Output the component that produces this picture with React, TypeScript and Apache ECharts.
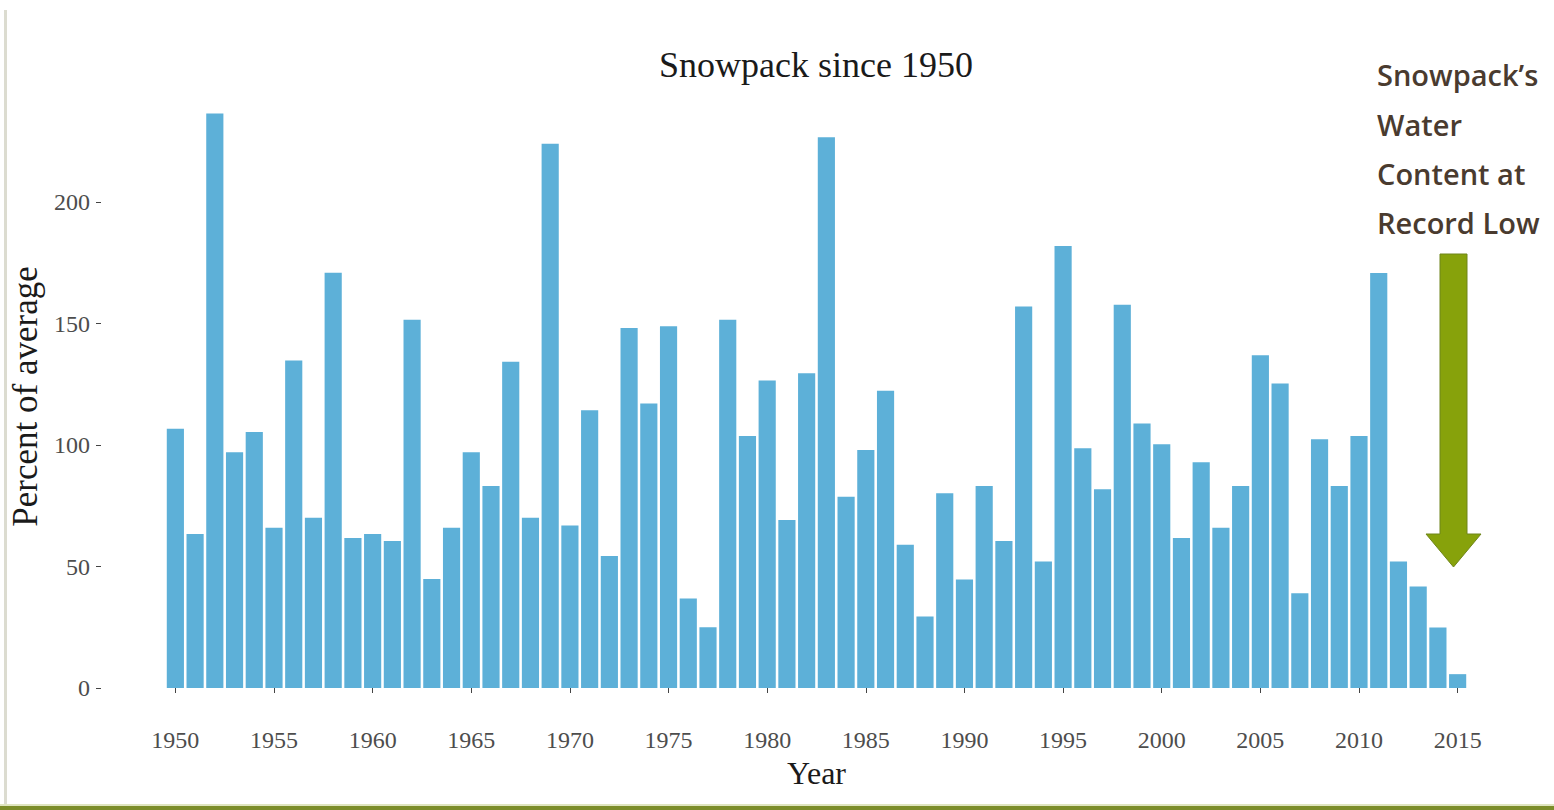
import React, { useEffect, useRef } from "react";
import * as echarts from "echarts";

const years: string[] = [];
for (let y = 1950; y <= 2015; y++) years.push(String(y));

const percentOfAverage: number[] = [
  106.7, 63.4, 236.5, 97.1, 105.4, 66, 134.8, 70.1, 170.9, 61.7,
  63.4, 60.5, 151.6, 44.9, 66, 97.1, 83.2, 134.3, 70.1, 224,
  66.9, 114.3, 54.3, 148.2, 117.1, 148.9, 36.8, 25, 151.6, 103.7,
  126.6, 69.2, 129.6, 226.7, 78.7, 98, 122.4, 59, 29.4, 80.2,
  44.7, 83.2, 60.5, 157, 52.1, 182, 98.7, 81.8, 157.8, 108.9,
  100.3, 61.7, 92.9, 66, 83.2, 137, 125.4, 39, 102.4, 83.2,
  103.7, 170.8, 52.1, 41.8, 24.9, 5.7,
];

const yTicks: number[] = [0, 50, 100, 150, 200];

const titleText = "Snowpack since 1950";
const xName = "Year";
const yName = "Percent of average";
const noteLines: string[] = ["Snowpack\u2019s", "Water", "Content at", "Record Low"];

const SERIF = "'Liberation Serif', 'Times New Roman', serif";
const SANS = "'Open Sans', 'Noto Sans', sans-serif";

export default function App() {
  const ref = useRef<HTMLDivElement>(null);

  useEffect(() => {
    if (!ref.current) return;
    const chart = echarts.init(ref.current, null, { renderer: "svg" });

    const noteY = [74, 124, 173, 222];

    const option: any = {
      animation: false,
      backgroundColor: "#ffffff",
      grid: { left: 165.5, right: 86.5, top: 105, bottom: 122 },
      xAxis: {
        type: "category",
        data: years,
        offset: 29,
        axisLine: { show: false },
        axisTick: {
          show: true,
          alignWithLabel: true,
          interval: 4,
          length: 5,
          lineStyle: { color: "#444", width: 1 },
        },
        axisLabel: {
          interval: 4,
          margin: 11,
          fontFamily: SERIF,
          fontSize: 24,
          color: "#4d4d4d",
        },
        name: xName,
        nameLocation: "middle",
        nameGap: 38,
        nameTextStyle: { fontFamily: SERIF, fontSize: 32, color: "#1a1a1a" },
        splitLine: { show: false },
      },
      yAxis: {
        type: "value",
        min: 0,
        max: 240,
        offset: 64.5,
        axisLine: { show: false },
        splitLine: { show: false },
        axisTick: {
          show: true,
          length: 5,
          customValues: yTicks,
          lineStyle: { color: "#444", width: 1 },
        },
        axisLabel: {
          customValues: yTicks,
          margin: 11,
          fontFamily: SERIF,
          fontSize: 24,
          color: "#4d4d4d",
        },
        name: yName,
        nameLocation: "middle",
        nameGap: 44,
        nameTextStyle: { fontFamily: SERIF, fontSize: 35, color: "#1a1a1a" },
      },
      series: [
        {
          type: "bar",
          data: percentOfAverage,
          barCategoryGap: "13%",
          itemStyle: { color: "#5DB0D8" },
        },
      ],
      graphic: [
        {
          type: "rect",
          shape: { x: 4, y: 10, width: 3, height: 800 },
          style: { fill: "#dcdcd0" },
          silent: true,
        },
        {
          type: "rect",
          shape: { x: 0, y: 804, width: 1554, height: 2 },
          style: { fill: "#dfe5c0" },
          silent: true,
        },
        {
          type: "rect",
          shape: { x: 0, y: 806, width: 1554, height: 4 },
          style: { fill: "#7C8D2A" },
          silent: true,
        },
        {
          type: "text",
          x: 816,
          y: 65,
          style: {
            text: titleText,
            fontFamily: SERIF,
            fontSize: 36,
            fill: "#1a1a1a",
            textAlign: "center",
            textVerticalAlign: "middle",
          },
        },
        ...noteLines.map((t, i) => ({
          type: "text",
          x: 1377,
          y: noteY[i],
          style: {
            text: t,
            fontFamily: SANS,
            fontWeight: 600,
            fontSize: 29,
            fill: "#4A3B2F",
            textAlign: "left",
            textVerticalAlign: "middle",
          },
        })),
        {
          type: "polygon",
          shape: {
            points: [
              [1440, 254],
              [1467, 254],
              [1467, 534],
              [1481, 534],
              [1453.5, 567],
              [1426, 534],
              [1440, 534],
            ],
          },
          style: { fill: "#87A20B", stroke: "#6F851A", lineWidth: 1 },
        },
      ],
    };

    chart.setOption(option);
    return () => chart.dispose();
  }, []);

  return (
    <div
      ref={ref}
      style={{ position: "fixed", left: 0, top: 0, width: "1554px", height: "810px" }}
    />
  );
}
